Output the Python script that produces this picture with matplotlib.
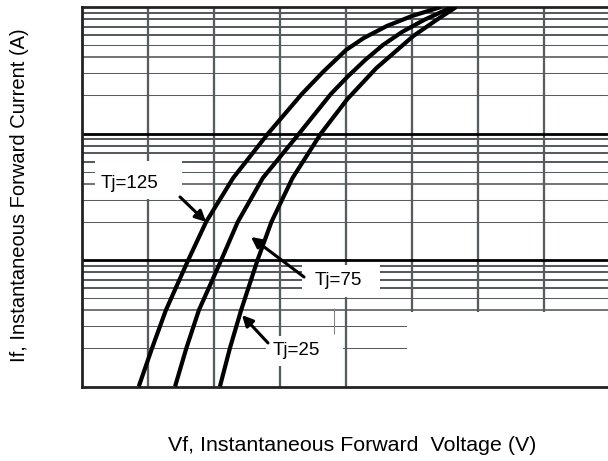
import matplotlib
matplotlib.use("Agg")
import matplotlib.pyplot as plt
from matplotlib.patches import Rectangle

plt.rcParams['font.family'] = ['Liberation Sans', 'DejaVu Sans']

# ---- data ----
if_tj125 = [0.1, 0.2, 0.4, 1.0, 2.0, 4.45, 10.0, 20.5, 30.6, 45.7, 56.9, 70.8, 84.9, 100.0]
vf_tj125 = [0.286, 0.306, 0.327, 0.361, 0.388, 0.429, 0.482, 0.533, 0.565, 0.600,
            0.627, 0.662, 0.700, 0.744]
if_tj75 = [0.1, 0.2, 0.4, 1.0, 2.0, 4.45, 10.0, 20.5, 28.0, 38.1, 50.1, 63.5, 78.9, 100.0]
vf_tj75 = [0.341, 0.358, 0.377, 0.411, 0.436, 0.474, 0.529, 0.577, 0.602, 0.629,
           0.656, 0.685, 0.718, 0.761]
if_tj25 = [0.1, 0.2, 0.4, 1.0, 2.0, 4.45, 10.0, 18.7, 32.9, 59.0, 78.9, 100.0]
vf_tj25 = [0.409, 0.424, 0.441, 0.466, 0.487, 0.519, 0.562, 0.602, 0.646, 0.702,
           0.737, 0.767]
series_labels = ["Tj=125", "Tj=75", "Tj=25"]
x_grid = [0.3, 0.4, 0.5, 0.6, 0.7, 0.8, 0.9]
decades = [0.1, 1.0, 10.0]
x_label = "Vf, Instantaneous Forward  Voltage (V)"
y_label = "If, Instantaneous Forward Current (A)"

W, H = 608, 461
fig = plt.figure(figsize=(W / 100, H / 100), dpi=100)
ax = fig.add_axes([82 / W, (H - 386.5) / H, 1 - 82 / W, (386.5 - 7) / H])
ax.set_yscale('log')
ax.set_xlim(0.2, 0.2 + 526 / 660)
ax.set_ylim(0.1, 100)
ax.set_xticks([])
ax.set_yticks([])
ax.minorticks_off()
ax.tick_params(which='both', length=0, labelleft=False, labelbottom=False)

grid_c = '#575c5e'
# horizontal grid
thick = {2: 0.75, 3: 0.75, 4: 1.2, 5: 0.75, 6: 1.45, 7: 1.45, 8: 1.45, 9: 1.45}
for d in decades:
    for m in range(2, 10):
        ax.axhline(d * m, color=grid_c, lw=thick[m], zorder=1)
for d in decades[1:]:
    ax.axhline(d, color='black', lw=2.0, zorder=1.2)
# vertical grid
for xv in x_grid:
    ax.axvline(xv, color=grid_c, lw=1.65, zorder=1.1)

# blank region bottom right
ax.add_patch(Rectangle((0.6924, 0.1), 0.5, 0.388 - 0.1, facecolor='white',
                       edgecolor='none', zorder=1.5))
ax.vlines(0.5818, 0.262, 0.415, color='#888888', lw=0.8, zorder=1.6)

# label boxes
for (x0, x1, y0, y1) in [(0.2197, 0.3515, 3.03, 6.06),
                         (0.5333, 0.6515, 0.51, 0.913),
                         (0.4788, 0.5955, 0.145, 0.2507)]:
    ax.add_patch(Rectangle((x0, y0), x1 - x0, y1 - y0, facecolor='white',
                           edgecolor='none', zorder=1.7))

# curves
for vf, cur in ((vf_tj125, if_tj125), (vf_tj75, if_tj75), (vf_tj25, if_tj25)):
    ax.plot(vf, cur, color='black', lw=3.0, zorder=3,
            solid_capstyle='butt', solid_joinstyle='round')

# arrows
arrow_kw = dict(arrowstyle='-|>', color='black', lw=2.2, mutation_scale=16,
                shrinkA=0, shrinkB=0)
ax.annotate('', xy=(0.388, 2.0), xytext=(0.3485, 3.15), arrowprops=arrow_kw, zorder=4)
ax.annotate('', xy=(0.456, 1.52), xytext=(0.5364, 0.734), arrowprops=arrow_kw, zorder=4)
ax.annotate('', xy=(0.4424, 0.367), xytext=(0.4818, 0.221), arrowprops=arrow_kw, zorder=4)

ax.text(0.272, 4.06, series_labels[0], fontsize=13.5, ha='center', va='center', zorder=5)
ax.text(0.5879, 0.683, series_labels[1], fontsize=13.5, ha='center', va='center', zorder=5)
ax.text(0.5242, 0.191, series_labels[2], fontsize=13.5, ha='center', va='center', zorder=5)

# spines
for s in ('left', 'top', 'bottom'):
    ax.spines[s].set_color('#222222')
    ax.spines[s].set_linewidth(2.0)
ax.spines['right'].set_color('#dddddd')
ax.spines['right'].set_linewidth(0.8)
for s in ax.spines.values():
    s.set_zorder(2.5)

fig.text(352 / W, 1 - 445 / H, x_label, fontsize=15.4, ha='center', va='center')
fig.text(19.5 / W, 1 - 195 / H, y_label, fontsize=14.5, ha='center', va='center',
         rotation=90)

fig.savefig('out.png', dpi=100)
